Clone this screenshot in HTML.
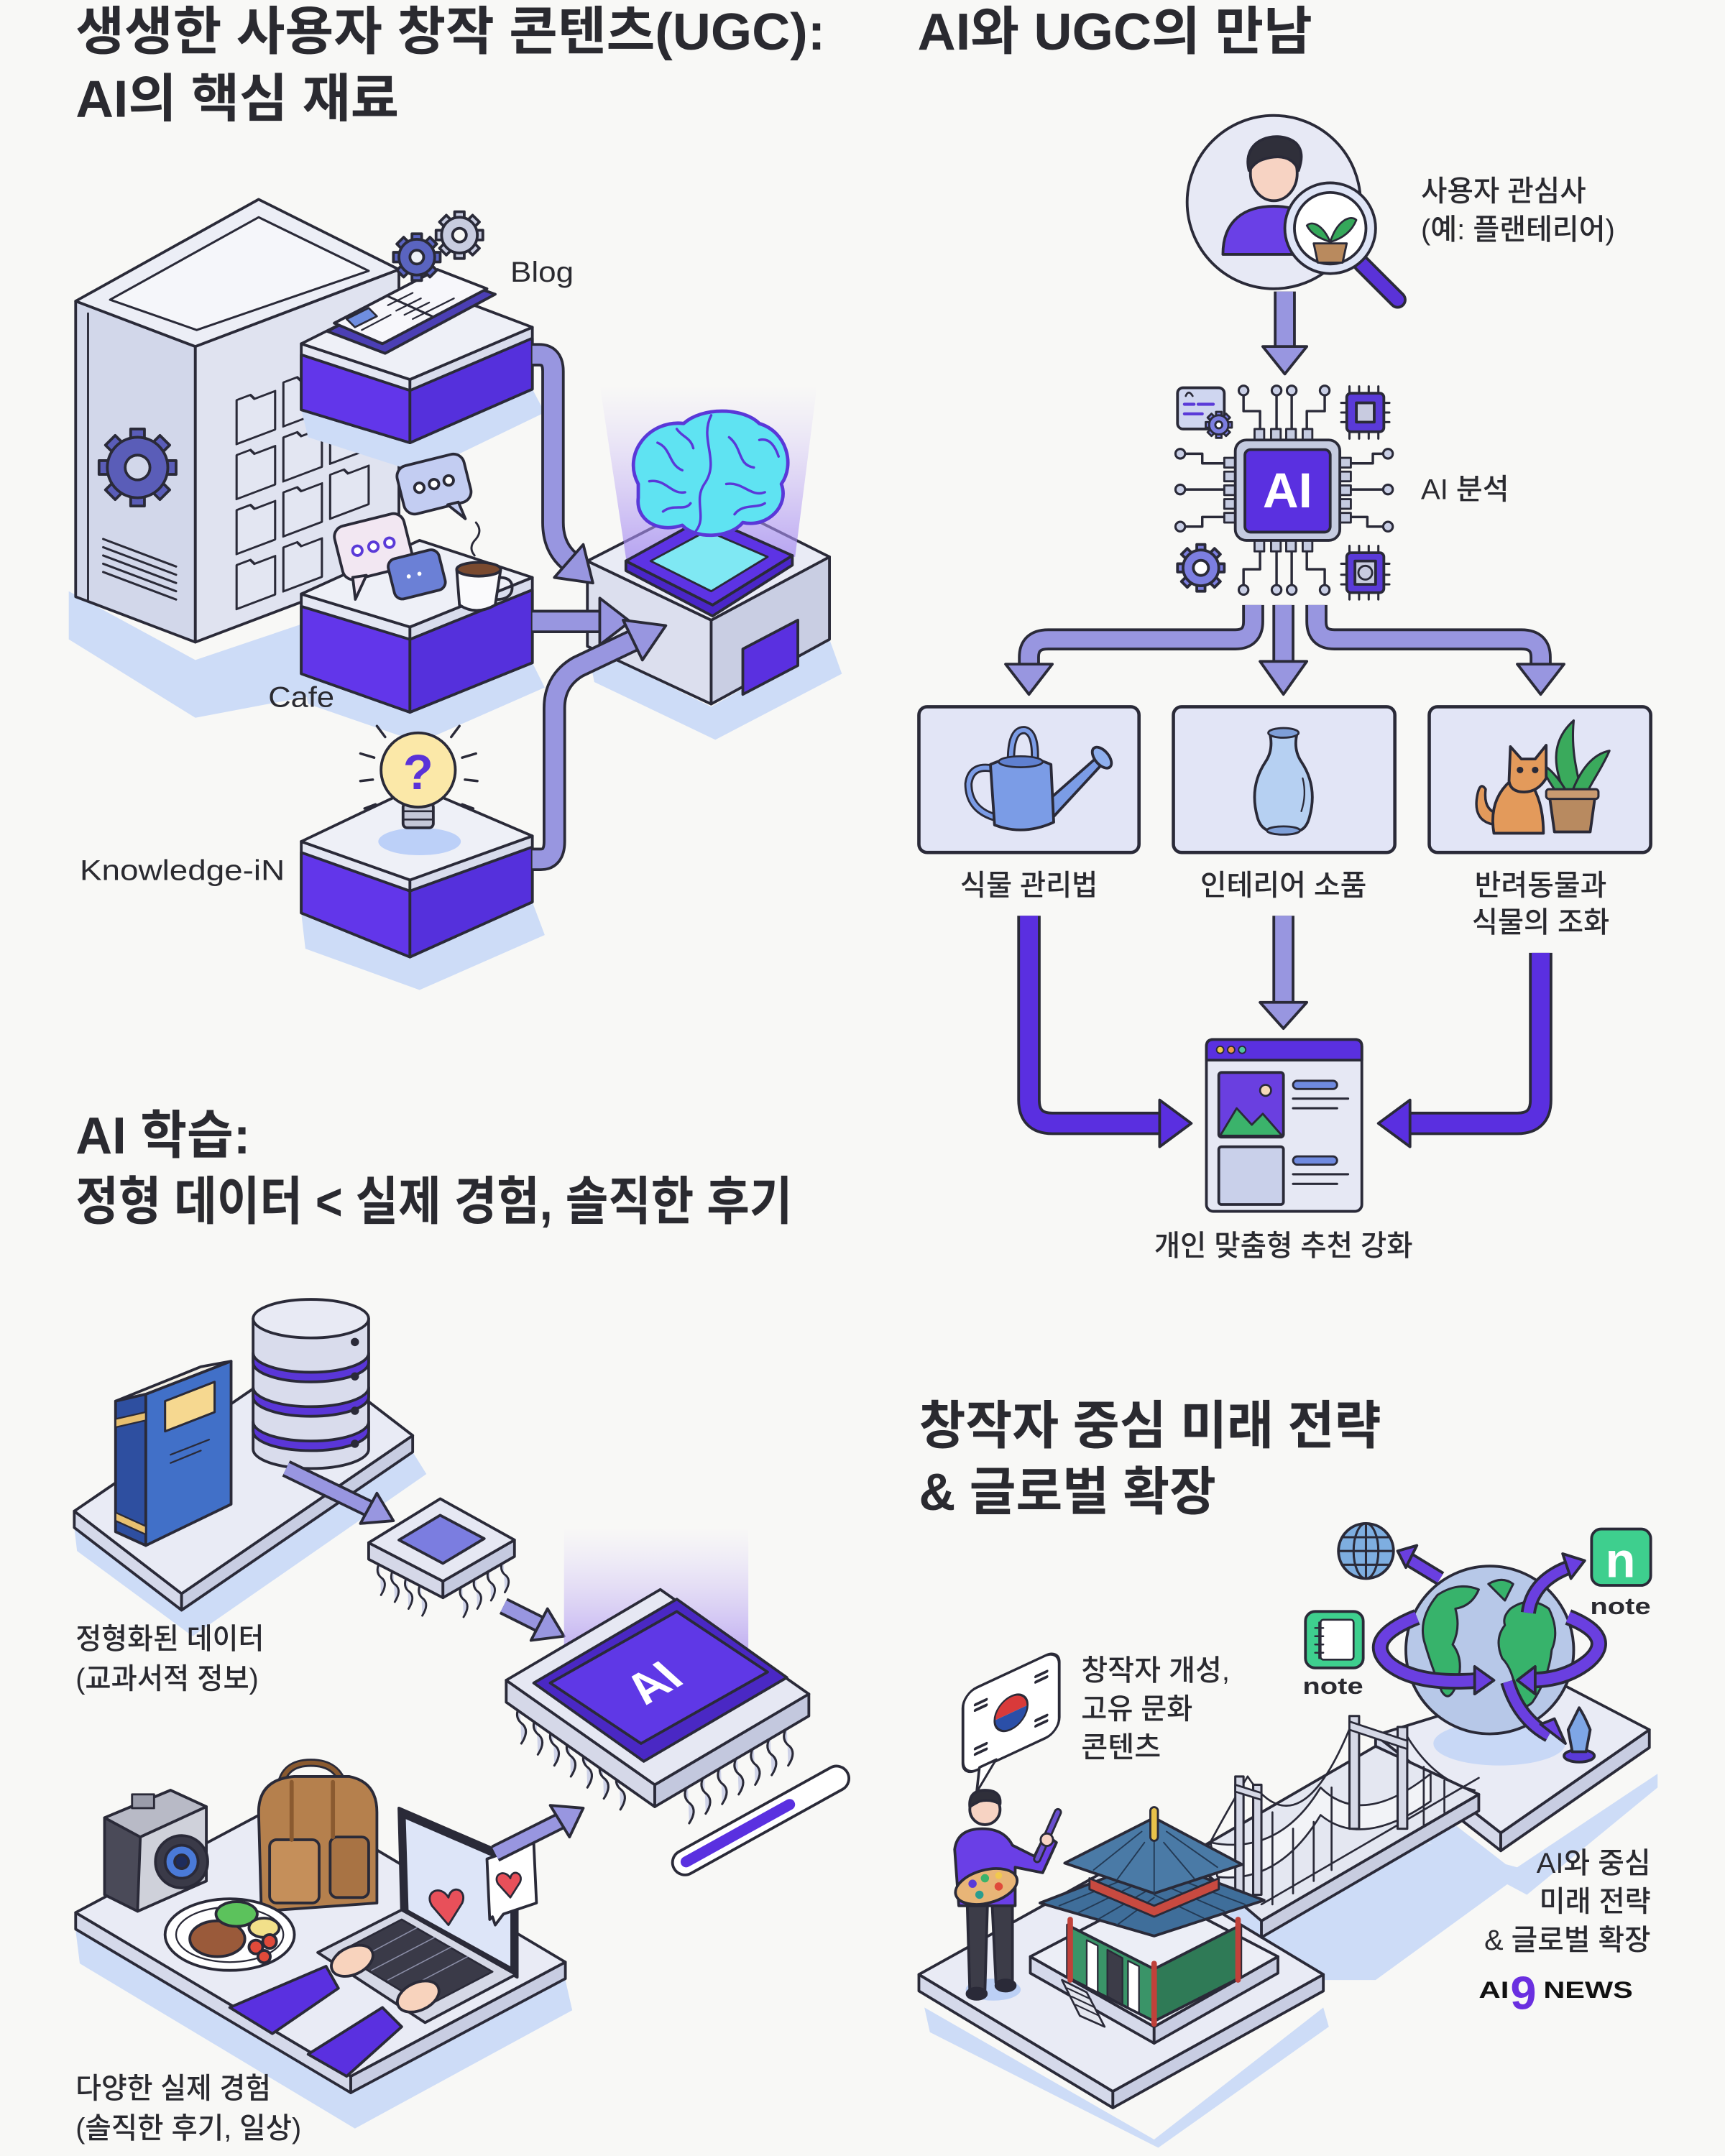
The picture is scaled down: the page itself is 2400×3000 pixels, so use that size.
<!DOCTYPE html>
<html><head><meta charset="utf-8">
<style>
html,body{margin:0;padding:0;background:#f8f8f6;}
svg{display:block;}
text{font-family:"Liberation Sans","Noto Sans CJK KR",sans-serif;fill:#2a2a30;stroke:none;}
.t{font-weight:700;font-size:38px;}
.l{font-size:21px;font-weight:500;}
</style></head><body>
<svg width="2400" height="3000" viewBox="0 0 1254 1568" preserveAspectRatio="none" xmlns="http://www.w3.org/2000/svg">
<defs>
<linearGradient id="beam" x1="0" y1="0" x2="0" y2="1"><stop offset="0" stop-color="#c9b8f7" stop-opacity="0"/><stop offset="1" stop-color="#a286f0" stop-opacity="0.75"/></linearGradient>
<linearGradient id="beam2" x1="0" y1="0" x2="0" y2="1"><stop offset="0" stop-color="#c9b8f7" stop-opacity="0"/><stop offset="1" stop-color="#9c80ee" stop-opacity="0.7"/></linearGradient>
</defs>
<rect x="0" y="0" width="1254" height="1568" fill="#f8f8f6"/>
<g stroke="#2a2a38" stroke-width="2" stroke-linejoin="round" stroke-linecap="round">

<!-- ================= SECTION 1 ================= -->
<polygon points="50,430 142,480 225,452 232,505 142,522 50,465" fill="#cddcf7" stroke="none"/>
<polygon points="55,219 142,252 142,467 55,434" fill="#d2d7ea"/>
<polygon points="142,252 290,196 290,411 142,467" fill="#e0e3f0"/>
<polygon points="55,219 188,145 290,196 142,252" fill="#eceef6"/>
<polygon points="80,218 188,158 268,197 143,240" fill="#f5f6fa" stroke-width="1.6"/>
<line x1="64" y1="228" x2="64" y2="436" stroke-width="1.5"/>
<g transform="translate(100,340)" fill="#5a5db8">
<rect x="-5" y="-28" width="10" height="56"/><rect x="-5" y="-28" width="10" height="56" transform="rotate(45)"/><rect x="-5" y="-28" width="10" height="56" transform="rotate(90)"/><rect x="-5" y="-28" width="10" height="56" transform="rotate(135)"/>
<circle r="22"/><circle r="9" fill="#d2d7ea"/></g>
<g stroke-width="1.6">
<line x1="75" y1="392" x2="128" y2="412"/><line x1="75" y1="398" x2="128" y2="418"/><line x1="75" y1="404" x2="128" y2="424"/><line x1="75" y1="410" x2="128" y2="430"/><line x1="75" y1="416" x2="128" y2="436"/>
</g>
<g transform="matrix(1,-0.378,0,1,0,0)" fill="#e3e6f2" stroke-width="1.6">
<path d="M172,360 v-4 h10 l3,4 h15 v28 h-28 z"/><path d="M206,360 v-4 h10 l3,4 h15 v28 h-28 z"/><path d="M240,360 v-4 h10 l3,4 h15 v28 h-28 z"/>
<path d="M172,400 v-4 h10 l3,4 h15 v28 h-28 z"/><path d="M206,400 v-4 h10 l3,4 h15 v28 h-28 z"/><path d="M240,400 v-4 h10 l3,4 h15 v28 h-28 z"/>
<path d="M172,440 v-4 h10 l3,4 h15 v28 h-28 z"/><path d="M206,440 v-4 h10 l3,4 h15 v28 h-28 z"/><path d="M240,440 v-4 h10 l3,4 h15 v28 h-28 z"/>
<path d="M172,480 v-4 h10 l3,4 h15 v28 h-28 z"/><path d="M206,480 v-4 h10 l3,4 h15 v28 h-28 z"/>
</g>

<!-- Blog block -->
<polygon points="219,298 298,322 387,283 396,300 305,344 224,318" fill="#cddcf7" stroke="none"/>
<polygon points="219,250 298,276 298,322 219,298" fill="#e4e7f3"/>
<polygon points="298,276 387,238 387,283 298,322" fill="#d8dcec"/>
<polygon points="219,258 298,284 298,322 219,298" fill="#6236ea"/>
<polygon points="298,284 387,246 387,283 298,322" fill="#5530dc"/>
<polygon points="219,250 305,207 387,238 298,276" fill="#eef0f7"/>
<polygon points="238,241 318,199 360,214 280,257" fill="#4b3fb5"/>
<polygon points="243,235 318,196 354,210 278,250" fill="#f7f7fb"/>
<line x1="281" y1="215" x2="314" y2="230" stroke-width="1.6"/>
<polygon points="252,232 268,224 274,230 258,238" fill="#6f8ee0" stroke-width="1.4"/>
<g stroke-width="1.2"><line x1="282" y1="222" x2="300" y2="213"/><line x1="288" y1="226" x2="306" y2="217"/><line x1="294" y1="229" x2="312" y2="220"/><line x1="300" y1="232" x2="330" y2="217"/><line x1="307" y1="235" x2="336" y2="220"/><line x1="263" y1="240" x2="284" y2="229"/></g>
<g transform="translate(303,187)" fill="#5a64c0">
<rect x="-3.5" y="-17" width="7" height="34"/><rect x="-3.5" y="-17" width="7" height="34" transform="rotate(45)"/><rect x="-3.5" y="-17" width="7" height="34" transform="rotate(90)"/><rect x="-3.5" y="-17" width="7" height="34" transform="rotate(135)"/>
<circle r="13"/><circle r="5" fill="#eef0f7"/></g>
<g transform="translate(334,171)" fill="#c8cce0">
<rect x="-3.5" y="-17" width="7" height="34"/><rect x="-3.5" y="-17" width="7" height="34" transform="rotate(45)"/><rect x="-3.5" y="-17" width="7" height="34" transform="rotate(90)"/><rect x="-3.5" y="-17" width="7" height="34" transform="rotate(135)"/>
<circle r="13"/><circle r="5" fill="#f8f8f6"/></g>

<!-- Cafe block -->
<polygon points="219,490 298,518 387,482 396,500 305,540 224,512" fill="#cddcf7" stroke="none"/>
<polygon points="219,432 298,456 298,518 219,490" fill="#e4e7f3"/>
<polygon points="298,456 387,420 387,482 298,518" fill="#d8dcec"/>
<polygon points="219,441 298,465 298,518 219,490" fill="#6236ea"/>
<polygon points="298,465 387,429 387,482 298,518" fill="#5530dc"/>
<polygon points="219,432 305,393 387,420 298,456" fill="#eef0f7"/>
<g transform="rotate(-14 316 354)"><rect x="291" y="334" width="50" height="36" rx="8" fill="#c3cdf2"/><polygon points="322,369 332,382 330,369" fill="#c3cdf2"/><circle cx="305" cy="352" r="3.5" fill="#fff"/><circle cx="316" cy="352" r="3.5" fill="#fff"/><circle cx="327" cy="352" r="3.5" fill="#fff"/></g>
<g transform="rotate(-14 270 400)"><rect x="246" y="378" width="52" height="40" rx="8" fill="#f2e7f2"/><polygon points="252,416 250,432 262,417" fill="#f2e7f2"/><circle cx="260" cy="398" r="3.5" fill="#fff" stroke="#5a3ad8"/><circle cx="272" cy="398" r="3.5" fill="#fff" stroke="#5a3ad8"/><circle cx="284" cy="398" r="3.5" fill="#fff" stroke="#5a3ad8"/></g>
<g transform="rotate(-14 302 418)"><rect x="284" y="403" width="38" height="30" rx="6" fill="#6b80d6"/><circle cx="297" cy="418" r="1.5" fill="#fff" stroke="none"/><circle cx="305" cy="418" r="1.5" fill="#fff" stroke="none"/></g>
<path d="M332,414 L334,440 Q346,448 360,440 L364,414 Z" fill="#fafafc"/>
<ellipse cx="348" cy="414" rx="16" ry="5" fill="#7a4a30"/>
<path d="M363,420 Q374,420 372,430 Q370,436 361,436" fill="none"/>
<path d="M345,404 Q340,398 346,392 Q351,386 346,380" fill="none" stroke-width="1.5"/>

<!-- Knowledge block -->
<polygon points="219,664 298,696 387,656 396,680 305,720 222,690" fill="#cddcf7" stroke="none"/>
<polygon points="219,612 298,640 298,696 219,664" fill="#e4e7f3"/>
<polygon points="298,640 387,608 387,656 298,696" fill="#d8dcec"/>
<polygon points="219,620 298,648 298,696 219,664" fill="#6236ea"/>
<polygon points="298,648 387,616 387,656 298,696" fill="#5530dc"/>
<polygon points="219,612 303,572 387,608 298,640" fill="#eef0f7"/>
<ellipse cx="305" cy="612" rx="30" ry="10" fill="#bcd0f8" stroke="none"/>
<rect x="293" y="584" width="22" height="18" rx="3" fill="#c5c8d8"/>
<line x1="293" y1="590" x2="315" y2="590" stroke-width="1.4"/><line x1="293" y1="596" x2="315" y2="596" stroke-width="1.4"/>
<circle cx="304" cy="560" r="27" fill="#fbe8a8"/>
<g stroke-width="1.8"><line x1="262" y1="548" x2="272" y2="551"/><line x1="262" y1="568" x2="271" y2="567"/><line x1="274" y1="528" x2="280" y2="536"/><line x1="336" y1="551" x2="346" y2="548"/><line x1="338" y1="567" x2="347" y2="568"/><line x1="334" y1="528" x2="328" y2="536"/><line x1="265" y1="588" x2="273" y2="585"/><line x1="336" y1="585" x2="344" y2="588"/></g>

<!-- Brain AI box -->
<polygon points="427,470 517,514 603,465 612,490 520,538 432,496" fill="#cddcf7" stroke="none"/>
<polygon points="427,408 517,451 517,512 427,470" fill="#dcdfee"/>
<polygon points="517,451 603,405 603,465 517,512" fill="#c9cee3"/>
<polygon points="540,472 580,451 580,484 540,505" fill="#5a30e0"/>
<polygon points="427,408 517,362 603,405 517,451" fill="#e9ebf5"/>
<polygon points="436,280 594,280 578,405 456,412" fill="url(#beam)" stroke="none"/>
<polygon points="455,408 518,440 576,404 576,411 518,448 455,415" fill="#4a26c8"/>
<polygon points="455,408 513,376 576,404 518,440" fill="#5d33e4"/>
<polygon points="473,408 514,386 558,405 517,430" fill="#7fe8f3" stroke-width="1.5"/>
<path d="M464,352 C452,330 472,305 497,308 C510,296 540,296 552,308 C572,314 578,338 568,352 C574,368 558,384 540,380 C530,392 505,392 496,382 C478,388 462,378 464,362 Z" fill="#5fe3f2" stroke="#5a38d8" stroke-width="2.5"/>
<g fill="none" stroke="#5a38d8" stroke-width="1.8">
<path d="M517,302 C508,320 524,335 512,352 C504,364 514,376 506,386"/>
<path d="M478,322 C488,326 486,338 496,342"/><path d="M472,350 C484,348 488,360 498,358"/><path d="M482,372 C490,366 498,372 502,366"/>
<path d="M530,318 C540,326 536,338 548,340"/><path d="M528,352 C540,350 546,362 556,358"/><path d="M534,374 C540,366 550,370 556,366"/><path d="M552,320 C560,318 564,326 566,332"/>
<path d="M492,312 C496,318 502,318 504,326"/>
</g>

<!-- Section 1 arrows -->
<g fill="none">
<path d="M387,258 L392,258 Q402,258 402,270 L402,380 Q402,398 414,408" stroke="#2a2a38" stroke-width="17" stroke-linecap="butt"/>
<path d="M387,258 L392,258 Q402,258 402,270 L402,380 Q402,398 414,408" stroke="#9896e0" stroke-width="13" stroke-linecap="butt"/>
<path d="M387,452 L440,452" stroke="#2a2a38" stroke-width="17" stroke-linecap="butt"/>
<path d="M387,452 L440,452" stroke="#9896e0" stroke-width="13" stroke-linecap="butt"/>
<path d="M387,625 L393,625 Q403,625 403,612 L403,515 Q403,495 420,485 L462,465" stroke="#2a2a38" stroke-width="17" stroke-linecap="butt"/>
<path d="M387,625 L393,625 Q403,625 403,612 L403,515 Q403,495 420,485 L462,465" stroke="#9896e0" stroke-width="13" stroke-linecap="butt"/>
</g>
<polygon points="403,420 424,396 431,424" fill="#9896e0"/>
<polygon points="436,435 436,469 458,452" fill="#9896e0"/>
<polygon points="453,451 467,480 484,455" fill="#9896e0"/>

<!-- ================= SECTION 2 ================= -->
<circle cx="926" cy="147" r="63" fill="#e7e9f5"/>
<path d="M889,185 C889,160 905,150 926,150 C947,150 962,160 962,185 Z" fill="#6a40e6"/>
<ellipse cx="926" cy="126" rx="17" ry="20" fill="#f7d3c3"/>
<path d="M908,124 C902,100 930,94 942,104 C948,110 946,118 944,124 C940,114 930,112 918,116 C912,118 910,122 908,124 Z" fill="#2f2f3a"/>
<line x1="990" y1="192" x2="1016" y2="218" stroke="#2a2a38" stroke-width="13"/>
<line x1="990" y1="192" x2="1016" y2="218" stroke="#5a32d8" stroke-width="9"/>
<circle cx="967" cy="166" r="33" fill="#dfe5f7"/>
<circle cx="967" cy="166" r="26" fill="#ffffff"/>
<path d="M967,176 C962,164 954,160 950,164 C954,172 962,174 967,176 Z" fill="#35a85a" stroke-width="1.4"/>
<path d="M967,176 C972,160 982,156 986,160 C982,170 974,174 967,176 Z" fill="#35a85a" stroke-width="1.4"/>
<polygon points="955,177 979,177 976,191 958,191" fill="#b98a5e" stroke-width="1.5"/>

<g fill="none"><path d="M934,212 L934,254" stroke="#2a2a38" stroke-width="16" stroke-linecap="butt"/><path d="M934,212 L934,254" stroke="#9896e0" stroke-width="12" stroke-linecap="butt"/></g>
<polygon points="918,252 950,252 934,272" fill="#9896e0"/>

<!-- circuit -->
<g fill="none" stroke-width="1.8">
<polyline points="916,313 916,299 904,299 904,287"/><polyline points="928,313 928,287"/><polyline points="939,313 939,287"/><polyline points="950,313 950,299 963,299 963,287"/>
<polyline points="916,400 916,414 904,414 904,426"/><polyline points="928,400 928,426"/><polyline points="939,400 939,426"/><polyline points="950,400 950,414 963,414 963,426"/>
<polyline points="891,337 874,337 874,330 862,330"/><polyline points="891,356 862,356"/><polyline points="891,376 874,376 874,383 862,383"/>
<polyline points="981,337 998,337 998,330 1005,330"/><polyline points="981,356 1005,356"/><polyline points="981,376 994,376 994,383 1005,383"/>
</g>
<g fill="#c9cfe6" stroke-width="1.6">
<circle cx="904" cy="284" r="3.5"/><circle cx="928" cy="284" r="3.5"/><circle cx="939" cy="284" r="3.5"/><circle cx="963" cy="284" r="3.5"/>
<circle cx="904" cy="429" r="3.5"/><circle cx="928" cy="429" r="3.5"/><circle cx="939" cy="429" r="3.5"/><circle cx="963" cy="429" r="3.5"/>
<circle cx="858" cy="330" r="3.5"/><circle cx="858" cy="356" r="3.5"/><circle cx="858" cy="383" r="3.5"/>
<circle cx="1009" cy="330" r="3.5"/><circle cx="1009" cy="356" r="3.5"/><circle cx="1009" cy="383" r="3.5"/>
</g>
<g fill="#c5cbe0" stroke-width="1.5">
<rect x="912" y="312" width="7" height="9"/><rect x="924" y="312" width="7" height="9"/><rect x="935" y="312" width="7" height="9"/><rect x="947" y="312" width="7" height="9"/>
<rect x="912" y="392" width="7" height="9"/><rect x="924" y="392" width="7" height="9"/><rect x="935" y="392" width="7" height="9"/><rect x="947" y="392" width="7" height="9"/>
<rect x="890" y="333" width="9" height="7"/><rect x="890" y="343" width="9" height="7"/><rect x="890" y="353" width="9" height="7"/><rect x="890" y="363" width="9" height="7"/><rect x="890" y="373" width="9" height="7"/>
<rect x="973" y="333" width="9" height="7"/><rect x="973" y="343" width="9" height="7"/><rect x="973" y="353" width="9" height="7"/><rect x="973" y="363" width="9" height="7"/><rect x="973" y="373" width="9" height="7"/>
</g>
<rect x="898" y="320" width="76" height="73" rx="8" fill="#c5cbe0"/>
<rect x="905" y="327" width="62" height="60" rx="4" fill="#5a30e0"/>
<!-- small icons -->
<rect x="856" y="282" width="34" height="30" rx="4" fill="#cfd6f0"/>
<g stroke="#5a3ad8" stroke-width="2.2"><line x1="861" y1="294" x2="868" y2="294"/><line x1="871" y1="294" x2="882" y2="294"/><line x1="861" y1="301" x2="874" y2="301"/></g>
<path d="M862,288 q2,-5 5,0" fill="none" stroke-width="1.4"/>
<g transform="translate(886,309)" fill="#7c7ee0" stroke-width="1.5">
<rect x="-2" y="-9.5" width="4" height="19"/><rect x="-2" y="-9.5" width="4" height="19" transform="rotate(45)"/><rect x="-2" y="-9.5" width="4" height="19" transform="rotate(90)"/><rect x="-2" y="-9.5" width="4" height="19" transform="rotate(135)"/>
<circle r="7"/><circle r="2.5" fill="#fff"/></g>
<g stroke-width="1.6"><line x1="981" y1="281" x2="981" y2="287"/><line x1="988" y1="281" x2="988" y2="287"/><line x1="995" y1="281" x2="995" y2="287"/><line x1="1002" y1="281" x2="1002" y2="287"/>
<line x1="981" y1="313" x2="981" y2="319"/><line x1="988" y1="313" x2="988" y2="319"/><line x1="995" y1="313" x2="995" y2="319"/><line x1="1002" y1="313" x2="1002" y2="319"/>
<line x1="975" y1="293" x2="980" y2="293"/><line x1="975" y1="300" x2="980" y2="300"/><line x1="975" y1="307" x2="980" y2="307"/><line x1="1005" y1="293" x2="1010" y2="293"/><line x1="1005" y1="300" x2="1010" y2="300"/><line x1="1005" y1="307" x2="1010" y2="307"/></g>
<rect x="979" y="286" width="27" height="28" rx="3" fill="#5a3ad8"/>
<rect x="986" y="293" width="13" height="14" fill="#c8cbe0"/>
<g transform="translate(873,413)" fill="#7c7ee0">
<rect x="-3" y="-17" width="6" height="34"/><rect x="-3" y="-17" width="6" height="34" transform="rotate(45)"/><rect x="-3" y="-17" width="6" height="34" transform="rotate(90)"/><rect x="-3" y="-17" width="6" height="34" transform="rotate(135)"/>
<circle r="13"/><circle r="5.5" fill="#fff"/></g>
<g stroke-width="1.6"><line x1="981" y1="397" x2="981" y2="403"/><line x1="988" y1="397" x2="988" y2="403"/><line x1="995" y1="397" x2="995" y2="403"/><line x1="1002" y1="397" x2="1002" y2="403"/>
<line x1="981" y1="430" x2="981" y2="436"/><line x1="988" y1="430" x2="988" y2="436"/><line x1="995" y1="430" x2="995" y2="436"/><line x1="1002" y1="430" x2="1002" y2="436"/>
<line x1="975" y1="410" x2="980" y2="410"/><line x1="975" y1="418" x2="980" y2="418"/><line x1="975" y1="425" x2="980" y2="425"/><line x1="1005" y1="410" x2="1010" y2="410"/><line x1="1005" y1="418" x2="1010" y2="418"/><line x1="1005" y1="425" x2="1010" y2="425"/></g>
<rect x="979" y="402" width="27" height="29" rx="3" fill="#5a3ad8"/>
<rect x="985" y="408" width="15" height="17" fill="#c8cbe0"/>
<circle cx="992.5" cy="416.5" r="5" fill="none" stroke-width="1.5"/>

<!-- branch arrows -->
<g fill="none">
<path d="M911,440 L911,452 Q911,465 898,465 L762,465 Q748,465 748,478 L748,485" stroke="#2a2a38" stroke-width="16" stroke-linecap="butt"/>
<path d="M911,440 L911,452 Q911,465 898,465 L762,465 Q748,465 748,478 L748,485" stroke="#9896e0" stroke-width="12" stroke-linecap="butt"/>
<path d="M933,440 L933,483" stroke="#2a2a38" stroke-width="16" stroke-linecap="butt"/>
<path d="M933,440 L933,483" stroke="#9896e0" stroke-width="12" stroke-linecap="butt"/>
<path d="M957,440 L957,452 Q957,465 970,465 L1106,465 Q1120,465 1120,478 L1120,485" stroke="#2a2a38" stroke-width="16" stroke-linecap="butt"/>
<path d="M957,440 L957,452 Q957,465 970,465 L1106,465 Q1120,465 1120,478 L1120,485" stroke="#9896e0" stroke-width="12" stroke-linecap="butt"/>
</g>
<polygon points="731,483 765,483 748,505" fill="#9896e0"/>
<polygon points="916,481 950,481 933,505" fill="#9896e0"/>
<polygon points="1103,483 1137,483 1120,505" fill="#9896e0"/>

<!-- cards -->
<rect x="668" y="514" width="160" height="106" rx="6" fill="#e2e5f6" stroke-width="2.4"/>
<rect x="853" y="514" width="161" height="106" rx="6" fill="#e2e5f6" stroke-width="2.4"/>
<rect x="1039" y="514" width="161" height="106" rx="6" fill="#e2e5f6" stroke-width="2.4"/>
<!-- watering can -->
<path d="M726,560 Q706,554 704,570 Q704,588 722,594" fill="none" stroke="#2a2a38" stroke-width="6"/>
<path d="M726,560 Q706,554 704,570 Q704,588 722,594" fill="none" stroke="#7b9ce6" stroke-width="3"/>
<path d="M735,557 Q734,530 745,531 Q754,533 752,558" fill="none" stroke="#2a2a38" stroke-width="6"/>
<path d="M735,557 Q734,530 745,531 Q754,533 752,558" fill="none" stroke="#7b9ce6" stroke-width="3"/>
<polygon points="762,582 796,552 800,557 764,596" fill="#7b9ce6"/>
<ellipse cx="801" cy="551" rx="5" ry="9" transform="rotate(-40 801 551)" fill="#8fb0ee"/>
<path d="M720,556 Q742,546 764,556 L766,598 Q744,608 723,600 Z" fill="#7b9ce6"/>
<ellipse cx="742" cy="554" rx="16" ry="4" fill="#5f80d0" stroke-width="1.4"/>
<!-- vase -->
<path d="M923,533 L943,533 Q940,545 946,554 Q958,572 952,594 Q950,602 945,604 L922,604 Q916,602 914,594 Q908,572 920,554 Q926,545 923,533 Z" fill="#b6d0f2"/>
<ellipse cx="933" cy="533" rx="11" ry="3.5" fill="#7e9fd8" stroke-width="1.5"/>
<ellipse cx="933" cy="604" rx="12" ry="3" fill="#7e9fd8" stroke-width="1.5"/>
<path d="M947,566 Q950,578 946,590" fill="none" stroke-width="1.2"/>
<!-- cat + plant -->
<path d="M1138,578 C1130,560 1126,540 1144,524 C1142,545 1146,560 1150,578 Z" fill="#3aaa5c" stroke-width="1.6"/>
<path d="M1142,578 C1150,556 1160,548 1170,546 C1164,560 1156,570 1152,580 Z" fill="#3aaa5c" stroke-width="1.6"/>
<path d="M1140,578 C1134,566 1124,556 1120,556 C1124,566 1130,574 1134,580 Z" fill="#3aaa5c" stroke-width="1.6"/>
<polygon points="1126,576 1160,576 1156,605 1130,605" fill="#b88a60"/>
<rect x="1124" y="574" width="38" height="7" rx="2" fill="#c99a70" stroke-width="1.6"/>
<path d="M1088,600 Q1070,598 1074,578 Q1076,568 1080,574 Q1078,590 1090,592" fill="#e39a5b" stroke-width="1.8"/>
<path d="M1086,606 Q1082,582 1098,568 L1110,566 Q1122,580 1122,606 Z" fill="#e39a5b"/>
<path d="M1097,568 L1098,543 L1106,552 L1116,552 L1124,542 L1124,566 Q1118,576 1108,576 Q1098,576 1097,568 Z" fill="#e39a5b"/>
<circle cx="1105" cy="560" r="1.4" fill="#2a2a38"/><circle cx="1116" cy="560" r="1.4" fill="#2a2a38"/>

<!-- bottom arrows -->
<g fill="none">
<path d="M748,666 L748,800 Q748,817 765,817 L846,817" stroke="#2a2a38" stroke-width="17" stroke-linecap="butt"/>
<path d="M748,666 L748,800 Q748,817 765,817 L846,817" stroke="#5a2fe0" stroke-width="13" stroke-linecap="butt"/>
<path d="M1120,693 L1120,800 Q1120,817 1103,817 L1022,817" stroke="#2a2a38" stroke-width="17" stroke-linecap="butt"/>
<path d="M1120,693 L1120,800 Q1120,817 1103,817 L1022,817" stroke="#5a2fe0" stroke-width="13" stroke-linecap="butt"/>
<path d="M933,666 L933,731" stroke="#2a2a38" stroke-width="16" stroke-linecap="butt"/>
<path d="M933,666 L933,731" stroke="#9896e0" stroke-width="12" stroke-linecap="butt"/>
</g>
<polygon points="843,800 843,834 866,817" fill="#5a2fe0"/>
<polygon points="1025,800 1025,834 1002,817" fill="#5a2fe0"/>
<polygon points="916,729 950,729 933,748" fill="#9896e0"/>
<!-- browser -->
<rect x="877" y="756" width="113" height="125" rx="5" fill="#e6e8f4"/>
<path d="M877,771 L877,761 Q877,756 882,756 L985,756 Q990,756 990,761 L990,771 Z" fill="#5a30e0"/>
<circle cx="887" cy="763.5" r="2.6" fill="#f2c94c" stroke-width="1"/><circle cx="895" cy="763.5" r="2.6" fill="#f2994a" stroke-width="1"/><circle cx="903" cy="763.5" r="2.6" fill="#4fc3a1" stroke-width="1"/>
<rect x="886" y="780" width="47" height="47" rx="2" fill="#6a3fe0"/>
<polygon points="887,826 899,806 910,818 918,810 932,826" fill="#3bb36b" stroke-width="1.5"/>
<circle cx="920" cy="793" r="4" fill="#f5d9b8" stroke-width="1.4"/>
<rect x="886" y="834" width="47" height="42" rx="2" fill="#c9d0ea"/>
<rect x="940" y="786" width="32" height="6" rx="3" fill="#6f8ae0" stroke-width="1.5"/>
<line x1="940" y1="799" x2="980" y2="799" stroke-width="1.6"/><line x1="940" y1="806" x2="972" y2="806" stroke-width="1.6"/>
<rect x="940" y="841" width="32" height="6" rx="3" fill="#6f8ae0" stroke-width="1.5"/>
<line x1="940" y1="854" x2="980" y2="854" stroke-width="1.6"/><line x1="940" y1="861" x2="972" y2="861" stroke-width="1.6"/>

<!-- ================= SECTION 3 ================= -->
<polygon points="54,1111 132,1171 300,1056 310,1072 140,1190 56,1128" fill="#cddcf7" stroke="none"/>
<polygon points="54,1099 132,1159 132,1171 54,1111" fill="#d5d9ea"/>
<polygon points="132,1159 300,1044 300,1056 132,1171" fill="#c8cde2"/>
<polygon points="54,1099 222,984 300,1044 132,1159" fill="#e9ebf5"/>
<!-- book -->
<polygon points="84,1019 146,994 168,990 106,1014" fill="#f3f0e6"/>
<polygon points="84,1019 106,1014 106,1124 84,1114" fill="#2e4fa0"/>
<polygon points="106,1014 168,990 168,1094 106,1124" fill="#4170c8"/>
<polygon points="120,1019 156,1005 156,1027 120,1041" fill="#f6d890" stroke-width="1.6"/>
<line x1="124" y1="1058" x2="152" y2="1047" stroke-width="1.2"/><line x1="124" y1="1064" x2="146" y2="1055" stroke-width="1.2"/>
<polygon points="84,1032 106,1027 106,1033 84,1038" fill="#e8c070" stroke-width="1.2"/>
<polygon points="84,1100 106,1110 106,1116 84,1106" fill="#e8c070" stroke-width="1.2"/>
<!-- database -->
<path d="M184,959 L184,1054 A42,14 0 0 0 268,1054 L268,959 Z" fill="#d9dcec"/>
<path d="M184,984 A42,14 0 0 0 268,984 L268,991 A42,14 0 0 1 184,991 Z" fill="#5a36d8"/>
<path d="M184,1009 A42,14 0 0 0 268,1009 L268,1016 A42,14 0 0 1 184,1016 Z" fill="#5a36d8"/>
<path d="M184,1034 A42,14 0 0 0 268,1034 L268,1041 A42,14 0 0 1 184,1041 Z" fill="#5a36d8"/>
<ellipse cx="226" cy="959" rx="42" ry="14" fill="#e8eaf4"/>
<circle cx="258" cy="976" r="2" fill="#2a2a38"/><circle cx="258" cy="1001" r="2" fill="#2a2a38"/><circle cx="258" cy="1026" r="2" fill="#2a2a38"/><circle cx="258" cy="1050" r="2" fill="#2a2a38"/>
<!-- arrow db->chip -->
<g fill="none"><path d="M208,1068 L270,1098" stroke="#2a2a38" stroke-width="13" stroke-linecap="butt"/><path d="M208,1068 L270,1098" stroke="#9896e0" stroke-width="9" stroke-linecap="butt"/></g>
<polygon points="262,1108 274,1086 286,1106" fill="#9896e0"/>
<!-- small chip -->
<g fill="#cfd3e8" stroke-width="1.5">
<path d="M276,1136 q-4,8 2,12 q4,4 -1,12"/><path d="M286,1141 q-4,8 2,12 q4,4 -1,12"/><path d="M296,1146 q-4,8 2,12 q4,4 -1,12"/><path d="M306,1151 q-4,8 2,12 q4,4 -1,12"/>
<path d="M336,1152 q-4,8 2,12 q4,4 -1,12"/><path d="M346,1146 q-4,8 2,12 q4,4 -1,12"/><path d="M356,1140 q-4,8 2,12 q4,4 -1,12"/><path d="M366,1134 q-4,8 2,12 q4,4 -1,12"/>
</g>
<polygon points="268,1122 322,1150 322,1162 268,1134" fill="#d5d8e8"/>
<polygon points="322,1150 374,1120 374,1132 322,1162" fill="#c5cae0"/>
<polygon points="268,1122 320,1090 374,1120 322,1150" fill="#e6e8f3"/>
<polygon points="290,1120 320,1102 352,1119 322,1137" fill="#7b7de0"/>
<!-- arrow small chip -> big chip -->
<g fill="none"><path d="M366,1168 L394,1182" stroke="#2a2a38" stroke-width="13" stroke-linecap="butt"/><path d="M366,1168 L394,1182" stroke="#9896e0" stroke-width="9" stroke-linecap="butt"/></g>
<polygon points="386,1193 398,1170 410,1190" fill="#9896e0"/>
<!-- big chip -->
<polygon points="410,1111 544,1111 544,1210 410,1210" fill="url(#beam2)" stroke="none"/>
<g fill="#cfd3e8" stroke-width="1.6">
<path d="M378,1240 q-5,9 2,14 q5,5 -1,14"/><path d="M390,1248 q-5,9 2,14 q5,5 -1,14"/><path d="M402,1256 q-5,9 2,14 q5,5 -1,14"/><path d="M414,1264 q-5,9 2,14 q5,5 -1,14"/><path d="M426,1272 q-5,9 2,14 q5,5 -1,14"/><path d="M438,1280 q-5,9 2,14 q5,5 -1,14"/><path d="M450,1288 q-5,9 2,14 q5,5 -1,14"/>
<path d="M500,1298 q-5,9 2,14 q5,5 -1,14"/><path d="M512,1291 q-5,9 2,14 q5,5 -1,14"/><path d="M524,1284 q-5,9 2,14 q5,5 -1,14"/><path d="M536,1277 q-5,9 2,14 q5,5 -1,14"/><path d="M548,1270 q-5,9 2,14 q5,5 -1,14"/><path d="M560,1263 q-5,9 2,14 q5,5 -1,14"/><path d="M572,1256 q-5,9 2,14 q5,5 -1,14"/>
</g>
<polygon points="368,1222 476,1298 476,1314 368,1238" fill="#d5d8e8"/>
<polygon points="476,1298 588,1232 588,1248 476,1314" fill="#c3c8de"/>
<polygon points="368,1222 480,1156 588,1232 476,1298" fill="#e6e8f3"/>
<polygon points="388,1224 492,1163 572,1220 468,1281" fill="#4a28c4"/>
<polygon points="400,1224 492,1172 558,1216 466,1268" fill="#5f38e6"/>
<text x="0" y="0" transform="translate(484,1232) rotate(-30) skewX(18)" font-size="34" font-weight="700" text-anchor="middle" style="fill:#ffffff">AI</text>
<!-- progress bar -->
<g transform="translate(553,1324) rotate(-29)"><rect x="-72" y="-9" width="144" height="18" rx="9" fill="#ffffff"/><rect x="-66" y="-4" width="94" height="8" rx="4" fill="#5a30e0" stroke="none"/></g>

<!-- platform 2 -->
<polygon points="55,1404 255,1523 411,1440 416,1462 258,1548 58,1428" fill="#cddcf7" stroke="none"/>
<polygon points="55,1391 255,1510 255,1522 55,1403" fill="#d5d9ea"/>
<polygon points="255,1510 411,1427 411,1439 255,1522" fill="#c8cde2"/>
<polygon points="55,1391 211,1308 411,1427 255,1510" fill="#e9ebf5"/>
<!-- camera -->
<polygon points="76,1322 124,1302 150,1314 150,1368 100,1390 76,1378" fill="#4a4a58"/>
<polygon points="76,1322 124,1302 150,1314 102,1336" fill="#b8bac6"/>
<polygon points="102,1336 150,1314 150,1368 100,1390" fill="#cfd1da"/>
<rect x="96" y="1305" width="16" height="10" fill="#9a9caa" stroke-width="1.5"/>
<circle cx="132" cy="1354" r="19" fill="#3a3a48"/><circle cx="132" cy="1354" r="12" fill="#4a7ad8"/><circle cx="132" cy="1354" r="5" fill="#1e2c5c"/>
<!-- backpack -->
<path d="M204,1300 Q206,1282 226,1282 Q246,1282 250,1300" fill="none" stroke="#2a2a38" stroke-width="6"/>
<path d="M204,1300 Q206,1282 226,1282 Q246,1282 250,1300" fill="none" stroke="#8a5a30" stroke-width="3"/>
<path d="M188,1318 Q188,1294 214,1292 L254,1292 Q274,1296 274,1318 L274,1384 L190,1390 Z" fill="#b5804d"/>
<rect x="196" y="1338" width="36" height="46" rx="5" fill="#c58f5a"/>
<rect x="240" y="1336" width="28" height="44" rx="5" fill="#a87344"/>
<line x1="212" y1="1296" x2="212" y2="1338" stroke="#8a5a30" stroke-width="3"/><line x1="242" y1="1296" x2="242" y2="1336" stroke="#8a5a30" stroke-width="3"/>
<!-- plate -->
<ellipse cx="167" cy="1407" rx="47" ry="26" fill="#ffffff"/>
<ellipse cx="167" cy="1407" rx="39" ry="20" fill="none" stroke-width="1.2"/>
<ellipse cx="158" cy="1410" rx="20" ry="13" fill="#9a5a3a"/>
<ellipse cx="172" cy="1392" rx="15" ry="9" fill="#5cc25c"/>
<ellipse cx="192" cy="1402" rx="11" ry="7" fill="#f2e08a"/>
<circle cx="186" cy="1416" r="5" fill="#e04a3a"/><circle cx="196" cy="1412" r="5" fill="#e04a3a"/><circle cx="192" cy="1423" r="4.5" fill="#e04a3a"/>
<!-- laptop -->
<polygon points="290,1315 376,1352 376,1438 292,1392" fill="#2a2a38"/>
<polygon points="295,1323 371,1356 371,1430 297,1389" fill="#dde5f8" stroke="none"/>
<path d="M326,1380 c-6,-10 -18,-4 -12,6 l12,14 l10,-16 c4,-10 -8,-14 -10,-4 z" fill="#e8505a" stroke-width="1.5"/>
<polygon points="231,1420 292,1389 375,1436 309,1471" fill="#d5d8e6"/>
<polygon points="246,1420 292,1396 358,1434 310,1459" fill="#3a3a48" stroke-width="1.4"/>
<g stroke="#8c8fa8" stroke-width="0.8"><line x1="258" y1="1426" x2="303" y2="1402"/><line x1="270" y1="1433" x2="316" y2="1409"/><line x1="282" y1="1440" x2="328" y2="1416"/><line x1="294" y1="1447" x2="340" y2="1423"/></g>
<!-- heart bubble -->
<polygon points="354,1352 388,1340 390,1384 366,1392 360,1400 358,1394 356,1396" fill="#ffffff"/>
<path d="M371,1366 c-4,-7 -13,-3 -9,4 l9,10 l7,-11 c3,-7 -6,-10 -7,-3 z" fill="#e8505a" stroke-width="1.4"/>
<!-- sleeves & hands -->
<polygon points="167,1460 237,1430 246,1446 198,1479" fill="#5a30e0"/>
<polygon points="224,1494 278,1460 292,1474 252,1510" fill="#5a30e0"/>
<ellipse cx="256" cy="1426" rx="16" ry="10" fill="#f8d3bd" transform="rotate(-25 256 1426)"/>
<ellipse cx="304" cy="1452" rx="16" ry="10" fill="#f8d3bd" transform="rotate(-25 304 1452)"/>
<!-- arrow laptop -> chip -->
<g fill="none"><path d="M360,1348 L408,1324" stroke="#2a2a38" stroke-width="13" stroke-linecap="butt"/><path d="M360,1348 L408,1324" stroke="#9896e0" stroke-width="9" stroke-linecap="butt"/></g>
<polygon points="400,1313 414,1336 424,1315" fill="#9896e0"/>

<!-- ================= SECTION 4 ================= -->
<!-- right platform -->
<polygon points="1010,1290 1100,1360 1205,1290 1205,1300 1110,1378 1020,1330" fill="#cddcf7" stroke="none"/>
<polygon points="1000,1262 1091,1333 1091,1346 1000,1275" fill="#d5d9ea"/>
<polygon points="1091,1333 1199,1258 1199,1271 1091,1346" fill="#c8cde2"/>
<polygon points="1000,1262 1130,1222 1199,1258 1091,1333" fill="#e9ebf5"/>
<ellipse cx="1090" cy="1268" rx="48" ry="16" fill="#c8d8f6" stroke="none"/>
<!-- left platform -->
<polygon points="672,1460 839,1556 962,1460 966,1474 842,1562 676,1478" fill="#cddcf7" stroke="none"/>
<polygon points="880,1400 1000,1330 1110,1360 1000,1440 900,1440" fill="#cddcf7" stroke="none"/>
<polygon points="668,1436 809,1521 809,1533 668,1448" fill="#d5d9ea"/>
<polygon points="809,1521 962,1436 962,1448 809,1533" fill="#c8cde2"/>
<polygon points="668,1436 821,1351 962,1436 809,1521" fill="#e9ebf5"/>
<!-- bridge -->
<polygon points="917,1397 1075,1305 1075,1317 917,1409" fill="#c8cde0"/>
<polygon points="862,1350 1000,1270 1075,1305 917,1397" fill="#e4e7f1"/>
<path d="M880,1340 Q930,1350 960,1300 Q990,1330 1040,1290 L1040,1310 Q990,1345 960,1320 Q930,1370 885,1365 Z" fill="#f2f3f7" stroke-width="1.4"/>
<g stroke-width="1.4" fill="none">
<path d="M868,1362 Q890,1320 907,1292"/><path d="M907,1292 Q945,1350 984,1250"/><path d="M1019,1256 Q1040,1295 1072,1302"/>
<line x1="925" y1="1318" x2="925" y2="1385"/><line x1="940" y1="1330" x2="940" y2="1377"/><line x1="955" y1="1325" x2="955" y2="1368"/><line x1="968" y1="1300" x2="968" y2="1360"/>
<line x1="1035" y1="1285" x2="1035" y2="1327"/><line x1="1050" y1="1295" x2="1050" y2="1318"/>
<line x1="917" y1="1385" x2="1075" y2="1293"/>
</g>
<rect x="898" y="1292" width="6" height="88" fill="#d5d8e6" stroke-width="1.6"/>
<rect x="911" y="1298" width="6" height="80" fill="#d5d8e6" stroke-width="1.6"/>
<rect x="981" y="1248" width="7" height="82" fill="#d5d8e6" stroke-width="1.6"/>
<rect x="1016" y="1256" width="7" height="74" fill="#d5d8e6" stroke-width="1.6"/>
<polygon points="981,1252 1023,1266 1023,1272 981,1258" fill="#d5d8e6" stroke-width="1.4"/>
<polygon points="898,1298 917,1304 917,1309 898,1303" fill="#d5d8e6" stroke-width="1.4"/>
<!-- pagoda -->
<polygon points="749,1423 839,1474 839,1486 749,1435" fill="#d5d9ea"/>
<polygon points="839,1474 929,1423 929,1435 839,1486" fill="#c8cde2"/>
<polygon points="749,1423 839,1376 929,1423 839,1474" fill="#eceef6"/>
<polygon points="772,1440 790,1449 803,1474 785,1466" fill="#e4e6ef" stroke-width="1.4"/>
<g stroke-width="1.1"><line x1="776" y1="1446" x2="793" y2="1454"/><line x1="779" y1="1452" x2="796" y2="1460"/><line x1="782" y1="1458" x2="799" y2="1466"/></g>
<polygon points="776,1400 839,1432 839,1470 776,1438" fill="#3a9468"/>
<polygon points="839,1432 902,1400 902,1438 839,1470" fill="#2f7a56"/>
<polygon points="790,1411 798,1415 798,1449 790,1445" fill="#ffffff" stroke-width="1.2"/>
<polygon points="805,1418 816,1424 816,1458 805,1452" fill="#3c3c48" stroke-width="1.2"/>
<polygon points="820,1426 828,1430 828,1464 820,1460" fill="#ffffff" stroke-width="1.2"/>
<line x1="778" y1="1396" x2="778" y2="1440" stroke="#c0413a" stroke-width="4"/>
<line x1="839" y1="1428" x2="839" y2="1472" stroke="#c0413a" stroke-width="4"/>
<line x1="900" y1="1396" x2="900" y2="1440" stroke="#c0413a" stroke-width="4"/>
<polygon points="756,1384 839,1352 919,1382 839,1408" fill="#3f6e9a"/>
<g stroke="#233a55" stroke-width="1"><line x1="770" y1="1386" x2="839" y2="1358"/><line x1="784" y1="1391" x2="839" y2="1364"/><line x1="798" y1="1396" x2="839" y2="1372"/><line x1="812" y1="1400" x2="839" y2="1380"/><line x1="839" y1="1360" x2="905" y2="1385"/><line x1="839" y1="1368" x2="890" y2="1390"/><line x1="839" y1="1378" x2="875" y2="1395"/></g>
<polygon points="792,1366 839,1386 886,1366 886,1374 839,1394 792,1374" fill="#c84a40" stroke-width="1.5"/>
<polygon points="839,1322 903,1356 839,1377 774,1355" fill="#4a7aa6"/>
<g stroke="#233a55" stroke-width="1"><line x1="839" y1="1322" x2="839" y2="1377"/><line x1="830" y1="1332" x2="795" y2="1360"/><line x1="832" y1="1340" x2="812" y2="1367"/><line x1="848" y1="1332" x2="885" y2="1358"/><line x1="846" y1="1340" x2="868" y2="1366"/></g>
<line x1="839" y1="1317" x2="839" y2="1336" stroke="#2a2a38" stroke-width="7"/>
<line x1="839" y1="1317" x2="839" y2="1336" stroke="#e8c24a" stroke-width="4"/>
<!-- painter -->
<ellipse cx="722" cy="1447" rx="20" ry="8" fill="#bcd0f5" stroke="none"/>
<polygon points="703,1380 718,1380 716,1448 705,1448" fill="#3c3c48"/>
<polygon points="721,1380 736,1380 736,1442 724,1442" fill="#3c3c48"/>
<ellipse cx="710" cy="1450" rx="7" ry="4" fill="#2a2a38"/><ellipse cx="731" cy="1444" rx="7" ry="4" fill="#2a2a38"/>
<path d="M697,1386 L694,1345 Q696,1330 714,1330 Q730,1330 736,1342 L752,1350 L760,1334 L768,1340 L758,1362 L738,1358 L738,1386 Z" fill="#6a3fe6"/>
<line x1="754" y1="1352" x2="769" y2="1318" stroke="#2a2a38" stroke-width="6"/>
<line x1="754" y1="1352" x2="769" y2="1318" stroke="#6a50d0" stroke-width="3"/>
<circle cx="761" cy="1338" r="4.5" fill="#f7d3c3" stroke-width="1.5"/>
<circle cx="716" cy="1316" r="11" fill="#f7d3c3"/>
<path d="M705,1314 Q704,1302 716,1302 Q728,1302 727,1312 Q720,1308 712,1310 Q708,1312 705,1314 Z" fill="#2f2f3a"/>
<ellipse cx="717" cy="1372" rx="23" ry="12" fill="#e8b577" transform="rotate(-15 717 1372)"/>
<circle cx="707" cy="1370" r="3" fill="#5a3ad8" stroke="none"/><circle cx="716" cy="1366" r="3" fill="#3bb36b" stroke="none"/><circle cx="726" cy="1372" r="3" fill="#e04a3a" stroke="none"/><circle cx="712" cy="1378" r="3" fill="#2a9d8f" stroke="none"/><circle cx="726" cy="1364" r="2.5" fill="#f2c94c" stroke="none"/>
<!-- flag bubble -->
<g transform="translate(700,1232) skewY(-25)">
<rect x="0" y="0" width="70" height="60" rx="10" fill="#ffffff"/>
<polygon points="12,59 10,76 24,59" fill="#ffffff"/>
<path d="M23,30 A12,12 0 0 1 47,30 Z" fill="#d93a3a" stroke="none"/>
<path d="M23,30 A12,12 0 0 0 47,30 Z" fill="#2b4fa8" stroke="none"/>
<circle cx="35" cy="30" r="12" fill="none" stroke-width="1.4"/>
<g stroke-width="2.2"><line x1="9" y1="12" x2="17" y2="12"/><line x1="9" y1="16" x2="17" y2="16"/><line x1="53" y1="12" x2="61" y2="12"/><line x1="53" y1="16" x2="61" y2="16"/><line x1="9" y1="44" x2="17" y2="44"/><line x1="9" y1="48" x2="17" y2="48"/><line x1="53" y1="44" x2="61" y2="44"/><line x1="53" y1="48" x2="61" y2="48"/></g>
</g>
<!-- globe arrows behind -->
<g fill="none">
<path d="M1047,1148 L1024,1134" stroke="#2a2a38" stroke-width="11" stroke-linecap="butt"/><path d="M1047,1148 L1024,1134" stroke="#6a3fe0" stroke-width="7" stroke-linecap="butt"/>
</g>
<polygon points="1016,1128 1030,1124 1022,1140" fill="#6a3fe0"/>
<!-- globe -->
<circle cx="1083" cy="1200" r="61" fill="#b7c8e8"/>
<path d="M1045,1160 Q1060,1150 1075,1156 Q1070,1168 1058,1170 Q1062,1184 1056,1196 Q1064,1206 1060,1222 Q1054,1240 1048,1230 Q1040,1210 1036,1196 Q1030,1178 1045,1160 Z" fill="#37b36b" stroke-width="1.6"/>
<path d="M1082,1152 Q1092,1146 1100,1152 L1094,1164 Z" fill="#37b36b" stroke-width="1.6"/>
<path d="M1098,1170 Q1112,1160 1126,1170 Q1134,1186 1128,1200 Q1126,1220 1114,1238 Q1106,1246 1102,1232 Q1100,1214 1092,1206 Q1086,1192 1094,1182 Q1092,1176 1098,1170 Z" fill="#37b36b" stroke-width="1.6"/>
<!-- ring and arrows front -->
<g fill="none">
<path d="M1030,1176 Q990,1192 1010,1210 Q1030,1226 1076,1222" stroke="#2a2a38" stroke-width="12" stroke-linecap="butt"/>
<path d="M1030,1176 Q990,1192 1010,1210 Q1030,1226 1076,1222" stroke="#6a3fe0" stroke-width="8" stroke-linecap="butt"/>
<path d="M1140,1176 Q1175,1190 1155,1208 Q1138,1222 1112,1222" stroke="#2a2a38" stroke-width="12" stroke-linecap="butt"/>
<path d="M1140,1176 Q1175,1190 1155,1208 Q1138,1222 1112,1222" stroke="#6a3fe0" stroke-width="8" stroke-linecap="butt"/>
<path d="M1111,1173 Q1114,1150 1140,1140" stroke="#2a2a38" stroke-width="11" stroke-linecap="butt"/>
<path d="M1111,1173 Q1114,1150 1140,1140" stroke="#6a3fe0" stroke-width="7" stroke-linecap="butt"/>
<path d="M1096,1223 Q1104,1250 1126,1262" stroke="#2a2a38" stroke-width="11" stroke-linecap="butt"/>
<path d="M1096,1223 Q1104,1250 1126,1262" stroke="#6a3fe0" stroke-width="7" stroke-linecap="butt"/>
</g>
<polygon points="1072,1212 1072,1232 1086,1222" fill="#6a3fe0"/>
<polygon points="1116,1212 1116,1232 1103,1222" fill="#6a3fe0"/>
<polygon points="1136,1130 1152,1135 1142,1148" fill="#6a3fe0"/>
<polygon points="1120,1254 1138,1268 1130,1250" fill="#6a3fe0"/>
<!-- lamp -->
<ellipse cx="1148" cy="1277" rx="11" ry="4.5" fill="#5a3ad8"/>
<path d="M1143,1274 L1140,1258 Q1146,1246 1148,1242 Q1152,1248 1156,1258 L1153,1274 Z" fill="#7ea6e6"/>
<!-- globe icon -->
<circle cx="993" cy="1128" r="20" fill="#7eaee0"/>
<g fill="none" stroke-width="1.6"><ellipse cx="993" cy="1128" rx="9" ry="20"/><line x1="993" y1="1108" x2="993" y2="1148"/><line x1="973" y1="1128" x2="1013" y2="1128"/><line x1="976" y1="1118" x2="1010" y2="1118"/><line x1="976" y1="1138" x2="1010" y2="1138"/></g>
<!-- note icons -->
<rect x="1157" y="1112" width="43" height="41" rx="7" fill="#3ecf8e"/>
<rect x="949" y="1172" width="42" height="41" rx="7" fill="#3ecf8e"/>
<rect x="960" y="1178" width="24" height="29" rx="2" fill="#ffffff" stroke-width="1.4"/>
<g stroke-width="1.3"><line x1="956" y1="1184" x2="962" y2="1184"/><line x1="956" y1="1190" x2="962" y2="1190"/><line x1="956" y1="1196" x2="962" y2="1196"/><line x1="956" y1="1202" x2="962" y2="1202"/><line x1="959" y1="1180" x2="959" y2="1206"/></g>
</g>

<!-- ================= TEXT ================= -->
<text class="t" x="55" y="36" textLength="545" lengthAdjust="spacingAndGlyphs">생생한 사용자 창작 콘텐츠(UGC):</text>
<text class="t" x="55" y="85" textLength="235" lengthAdjust="spacingAndGlyphs">AI의 핵심 재료</text>
<text class="t" x="667" y="36" textLength="287" lengthAdjust="spacingAndGlyphs">AI와 UGC의 만남</text>
<text class="t" x="55" y="839" textLength="127" lengthAdjust="spacingAndGlyphs">AI 학습:</text>
<text class="t" x="55" y="887" font-size="36" textLength="521" lengthAdjust="spacingAndGlyphs">정형 데이터 &lt; 실제 경험, 솔직한 후기</text>
<text class="t" x="668" y="1050" textLength="336" lengthAdjust="spacingAndGlyphs">창작자 중심 미래 전략</text>
<text class="t" x="668" y="1098" textLength="216" lengthAdjust="spacingAndGlyphs">&amp; 글로벌 확장</text>

<text class="l" x="371" y="205" textLength="46" lengthAdjust="spacingAndGlyphs">Blog</text>
<text class="l" x="195" y="514" textLength="48" lengthAdjust="spacingAndGlyphs">Cafe</text>
<text class="l" x="58" y="640" textLength="149" lengthAdjust="spacingAndGlyphs">Knowledge-iN</text>
<text x="304" y="574" font-size="36" font-weight="700" text-anchor="middle" style="fill:#5a32d8">?</text>

<text class="l" x="1033" y="146" textLength="120" lengthAdjust="spacingAndGlyphs">사용자 관심사</text>
<text class="l" x="1033" y="174" textLength="141" lengthAdjust="spacingAndGlyphs">(예: 플랜테리어)</text>
<text x="936" y="369" font-size="36" font-weight="700" text-anchor="middle" style="fill:#ffffff">AI</text>
<text class="l" x="1033" y="363" font-weight="700" textLength="64" lengthAdjust="spacingAndGlyphs">AI 분석</text>
<text class="l" x="748" y="651" text-anchor="middle" textLength="100" lengthAdjust="spacingAndGlyphs">식물 관리법</text>
<text class="l" x="933" y="651" text-anchor="middle" textLength="121" lengthAdjust="spacingAndGlyphs">인테리어 소품</text>
<text class="l" x="1120" y="651" text-anchor="middle" textLength="96" lengthAdjust="spacingAndGlyphs">반려동물과</text>
<text class="l" x="1120" y="678" text-anchor="middle" textLength="100" lengthAdjust="spacingAndGlyphs">식물의 조화</text>
<text class="l" x="933" y="913" text-anchor="middle" textLength="188" lengthAdjust="spacingAndGlyphs">개인 맞춤형 추천 강화</text>

<text class="l" x="55" y="1199" textLength="137" lengthAdjust="spacingAndGlyphs">정형화된 데이터</text>
<text class="l" x="55" y="1228" textLength="133" lengthAdjust="spacingAndGlyphs">(교과서적 정보)</text>
<text class="l" x="55" y="1526" textLength="142" lengthAdjust="spacingAndGlyphs">다양한 실제 경험</text>
<text class="l" x="55" y="1555" textLength="164" lengthAdjust="spacingAndGlyphs">(솔직한 후기, 일상)</text>

<text class="l" x="786" y="1222" textLength="108" lengthAdjust="spacingAndGlyphs">창작자 개성,</text>
<text class="l" x="786" y="1250" textLength="81" lengthAdjust="spacingAndGlyphs">고유 문화</text>
<text class="l" x="786" y="1278" textLength="58" lengthAdjust="spacingAndGlyphs">콘텐츠</text>
<text class="l" x="1200" y="1362" text-anchor="end" textLength="83" lengthAdjust="spacingAndGlyphs">AI와 중심</text>
<text class="l" x="1200" y="1390" text-anchor="end" textLength="81" lengthAdjust="spacingAndGlyphs">미래 전략</text>
<text class="l" x="1200" y="1418" text-anchor="end" textLength="121" lengthAdjust="spacingAndGlyphs">&amp; 글로벌 확장</text>

<text x="1178" y="1147" font-size="36" font-weight="700" text-anchor="middle" style="fill:#ffffff">n</text>
<text x="1178" y="1174" font-size="17" font-weight="700" text-anchor="middle" textLength="44" lengthAdjust="spacingAndGlyphs">note</text>
<text x="969" y="1232" font-size="17" font-weight="700" text-anchor="middle" textLength="44" lengthAdjust="spacingAndGlyphs">note</text>

<text x="1075" y="1453" font-size="17" font-weight="700" textLength="22" lengthAdjust="spacingAndGlyphs" style="fill:#111">AI</text>
<text x="1098" y="1461" font-size="34" font-weight="700" style="fill:#6a2fe0">9</text>
<text x="1122" y="1453" font-size="17" font-weight="700" textLength="65" lengthAdjust="spacingAndGlyphs" style="fill:#111">NEWS</text>
</svg>
</body></html>
